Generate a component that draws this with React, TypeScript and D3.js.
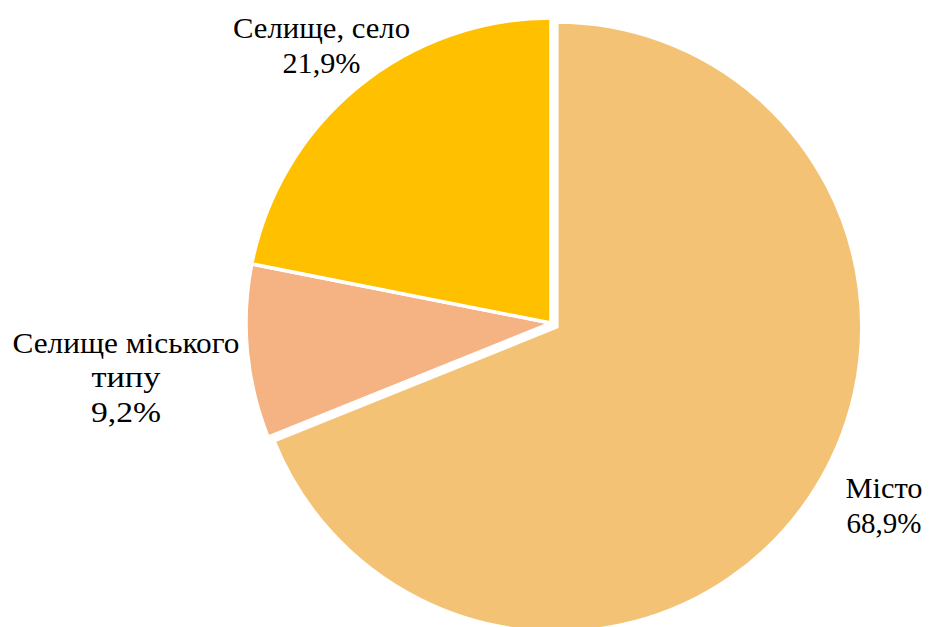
import React from "react";
import * as d3 from "d3";

const categories = ["Місто", "Селище міського типу", "Селище, село"];
const values = [68.9, 9.2, 21.9];
const labelLines = [["Місто", "68,9%"], ["Селище міського", "типу", "9,2%"], ["Селище, село", "21,9%"]];
const colors = ["#F3C274", "#F5B282", "#FFC000"];

const W = 931;
const H = 627;
const cx = 551;
const cy = 323;
const R = 305;
const explode = [7, 0, 0];
const labelRadius = [384.6, 429.9, 352.5];
const labelAngleShift = [-0.07, -0.056, -0.021];
const lineWidths = [[77, 75], [227, 69, 70], [177, 78]];

export default function App() {
  const pie = d3.pie<number>().sort(null).value((d) => d)(values);
  const arc = d3.arc<d3.PieArcDatum<number>>().innerRadius(0).outerRadius(R);
  const fontSize = 30;
  const lineH = 34.8;
  return (
    <svg width={W} height={H} style={{ position: "absolute", left: 0, top: 0, background: "#fff" }}>
      {pie.map((p, i) => {
        const mid = (p.startAngle + p.endAngle) / 2;
        const dx = Math.sin(mid) * explode[i];
        const dy = -Math.cos(mid) * explode[i];
        return (
          <path
            key={categories[i]}
            d={arc(p) || ""}
            transform={`translate(${cx + dx},${cy + dy})`}
            fill={colors[i]}
            stroke="#fff"
            strokeWidth={3.5}
          />
        );
      })}
      {pie.map((p, i) => {
        const mid = (p.startAngle + p.endAngle) / 2 + labelAngleShift[i];
        const lx = cx + Math.sin(mid) * labelRadius[i];
        const ly = cy - Math.cos(mid) * labelRadius[i];
        const lines = labelLines[i];
        const n = lines.length;
        return lines.map((t, j) => (
          <text
            key={"l" + i + "_" + j}
            x={lx - lineWidths[i][j] / 2}
            y={ly + (j - (n - 1) / 2) * lineH}
            textLength={lineWidths[i][j]}
            lengthAdjust="spacingAndGlyphs"
            style={{ fontFamily: '"Liberation Serif", "DejaVu Serif"', fontSize: fontSize }}
            fill="#000"
          >
            {t}
          </text>
        ));
      })}
    </svg>
  );
}
